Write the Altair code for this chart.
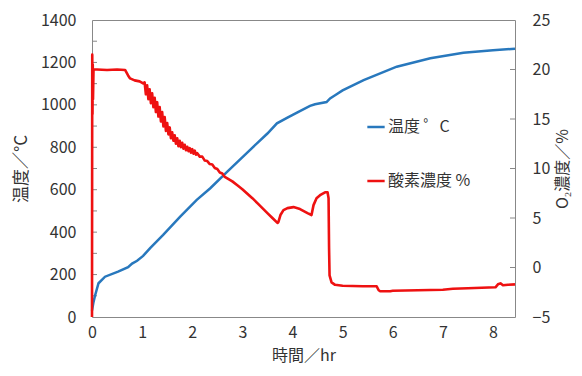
import altair as alt
import pandas as pd

# ---- data ----
temp_time = [0.0, 0.03, 0.06, 0.13, 0.26, 0.52, 0.72, 0.8, 0.9, 1.02, 1.16, 1.42, 1.76,
             2.09, 2.36, 2.7, 3.15, 3.5, 3.69, 3.9, 4.1, 4.35, 4.45, 4.68, 4.75,
             4.85, 5.0, 5.42, 6.08, 6.75, 7.41, 8.0, 8.44]
temp_val = [30, 70, 100, 159, 190, 214, 235, 252, 265, 288, 325, 387, 473,
            552, 607, 685, 787, 865, 913, 940, 965, 995, 1003, 1013, 1030,
            1045, 1068, 1117, 1180, 1220, 1246, 1257, 1265]

o2_time = [0.0, 0.005, 0.01, 0.015, 0.02, 0.03, 0.1, 0.3, 0.5, 0.66, 0.72, 0.76, 0.85, 0.95, 1.02,
           1.05, 1.075, 1.1, 1.125, 1.15, 1.175, 1.2, 1.225, 1.25, 1.275, 1.3, 1.325, 1.35, 1.375,
           1.4, 1.425, 1.45, 1.475, 1.5, 1.525, 1.55, 1.575, 1.6, 1.625, 1.65, 1.675, 1.7, 1.725,
           1.75, 1.775, 1.8, 1.825, 1.85, 1.875, 1.9, 1.925, 1.95, 1.975, 2.0, 2.025, 2.05, 2.075,
           2.1, 2.15, 2.2, 2.25, 2.3, 2.35, 2.4, 2.45, 2.5, 2.55, 2.6, 2.65, 2.7,
           2.8, 2.9, 3.0, 3.1, 3.2, 3.3, 3.4, 3.5, 3.6, 3.7, 3.72, 3.76, 3.82, 3.9, 4.02, 4.15,
           4.3, 4.38, 4.42, 4.48, 4.55, 4.65, 4.7, 4.72, 4.73, 4.74, 4.78, 4.85, 5.0, 5.4, 5.68,
           5.72, 5.75, 5.95, 6.0, 6.5, 7.0, 7.2, 7.5, 8.05, 8.1, 8.15, 8.2, 8.3, 8.44]
o2_val = [-5.0, 21.5, 15.5, 20.5, 17.0, 20.0, 20.0, 19.95, 20.0, 19.95, 19.4, 19.1, 18.9, 18.8, 18.6,
          18.7, 17.5, 18.4, 17.0, 18.0, 16.6, 17.6, 16.2, 17.15, 15.7, 16.7, 15.25, 16.2, 14.75,
          15.7, 14.25, 15.2, 13.8, 14.6, 13.45, 14.15, 13.05, 13.65, 12.8, 13.35, 12.5, 13.05, 12.25,
          12.8, 12.15, 12.6, 12.0, 12.4, 11.85, 12.2, 11.75, 12.05, 11.6, 11.95, 11.5, 11.8, 11.4,
          11.55, 11.2, 11.2, 10.8, 10.75, 10.45, 10.4, 10.05, 9.95, 9.6, 9.5, 9.15, 9.0,
          8.7, 8.3, 7.9, 7.45, 7.0, 6.5, 6.0, 5.5, 5.0, 4.5, 4.6, 5.3, 5.8, 6.0, 6.1, 5.9,
          5.5, 5.3, 6.3, 7.0, 7.3, 7.6, 7.6, 7.0, 2.0, -0.8, -1.5, -1.75, -1.85, -1.9, -1.9,
          -2.3, -2.4, -2.4, -2.35, -2.3, -2.25, -2.15, -2.1, -2.0, -1.7, -1.6, -1.8, -1.75, -1.7]

series_names = ["温度 ゜C", "酸素濃度 %"]
series_colors = ["#2878BD", "#EE1111"]

x_ticks = [0, 1, 2, 3, 4, 5, 6, 7, 8]
left_labels = [0, 200, 400, 600, 800, 1000, 1200, 1400]
left_minor = [100, 200, 300, 400, 500, 600, 700, 800, 900, 1000, 1100, 1200, 1300]
right_labels = [-5, 0, 5, 10, 15, 20, 25]
right_minor = [0, 5, 10, 15, 20]

W, H = 423, 297
FONT = "Noto Sans CJK JP"
TXT = "#333333"

df_t = pd.DataFrame({"t": temp_time, "v": temp_val, "s": series_names[0]})
df_o = pd.DataFrame({"t": o2_time, "v": o2_val, "s": series_names[1]})
df_lt = pd.DataFrame({"v": left_minor})
df_rt = pd.DataFrame({"v": right_minor})

xscale = alt.Scale(domain=[0, 8.44], nice=False, zero=False)
xaxis = alt.Axis(values=x_ticks, ticks=False, domain=False, grid=False, labelPadding=7,
                 labelFlush=False, title="時間／hr", titlePadding=7, labelFontSize=16, titleFontSize=16)

color = alt.Color("s:N", scale=alt.Scale(domain=series_names, range=series_colors),
                  legend=alt.Legend(title=None, orient="none", legendX=274, legendY=97,
                                    symbolType="stroke", symbolSize=300, symbolStrokeWidth=2.5,
                                    labelFontSize=16, rowPadding=36, labelOffset=2))

lscale = alt.Scale(domain=[0, 1400], nice=False, zero=False)
laxis = alt.Axis(values=left_labels, format="d", ticks=False, domain=False, grid=False, labelPadding=16,
                 labelFlush=False,
                 title="温度／°C", titleAngle=270, titlePadding=10, labelFontSize=16, titleFontSize=17)
rscale = alt.Scale(domain=[-5, 25], nice=False, zero=False)
raxis = alt.Axis(values=right_labels, format="d", ticks=False, domain=False, grid=False, labelPadding=17,
                 labelFlush=False,
                 title="O₂濃度／%", titleAngle=270, titlePadding=21, labelFontSize=16, titleFontSize=16,
                 orient="right")

temp_line = alt.Chart(df_t).mark_line(strokeWidth=2.5).encode(
    x=alt.X("t:Q", scale=xscale, axis=xaxis),
    y=alt.Y("v:Q", scale=lscale, axis=laxis),
    color=color,
)
left_ticks = alt.Chart(df_lt).mark_rule(color="#888888", strokeWidth=1).encode(
    y=alt.Y("v:Q", scale=lscale, axis=laxis),
    x=alt.value(0), x2=alt.value(5),
)
o2_line = alt.Chart(df_o).mark_line(strokeWidth=2.6, strokeJoin="round").encode(
    x=alt.X("t:Q", scale=xscale, axis=xaxis),
    y=alt.Y("v:Q", scale=rscale, axis=raxis),
    color=color,
)
right_ticks = alt.Chart(df_rt).mark_rule(color="#888888", strokeWidth=1).encode(
    y=alt.Y("v:Q", scale=rscale, axis=raxis),
    x=alt.value(W - 5), x2=alt.value(W),
)

left = alt.layer(left_ticks, temp_line)
right = alt.layer(right_ticks, o2_line)

chart = alt.layer(left, right).resolve_scale(y="independent").properties(
    width=W, height=H,
    autosize=alt.AutoSizeParams(type="none"),
    padding={"left": 84, "top": 12, "right": 58, "bottom": 51},
).configure_view(
    stroke="#888888", strokeWidth=1
).configure_axis(
    labelFont=FONT, titleFont=FONT, labelColor=TXT, titleColor=TXT, titleFontWeight="normal"
).configure_legend(
    labelFont=FONT, labelColor=TXT
)

chart.save("out.html", embed_options={"renderer": "svg", "actions": False})
